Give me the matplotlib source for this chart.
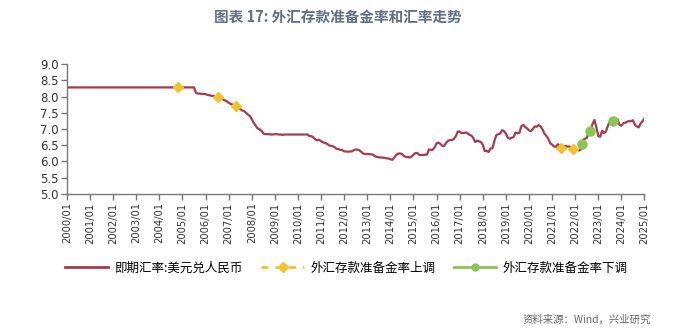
import numpy as np
import matplotlib
matplotlib.use("Agg")
import matplotlib.pyplot as plt
from matplotlib.lines import Line2D

plt.rcParams['font.family'] = ['Noto Sans CJK SC', 'DejaVu Sans']

# Spot USD/CNY, month-start values, 2000/01 .. 2025/01
usdcny = {
    2000: [8.28] * 12,
    2001: [8.28] * 12,
    2002: [8.28] * 12,
    2003: [8.28] * 12,
    2004: [8.28] * 12,
    2005: [8.28, 8.28, 8.28, 8.28, 8.28, 8.28, 8.28, 8.11, 8.09, 8.09, 8.08, 8.08],
    2006: [8.07, 8.05, 8.04, 8.02, 8.02, 8.01, 8.00, 7.97, 7.94, 7.91, 7.88, 7.85],
    2007: [7.81, 7.77, 7.75, 7.73, 7.70, 7.64, 7.61, 7.57, 7.55, 7.50, 7.44, 7.40],
    2008: [7.30, 7.19, 7.10, 7.02, 6.99, 6.95, 6.86, 6.84, 6.84, 6.84, 6.83, 6.83],
    2009: [6.84, 6.84, 6.83, 6.83, 6.82, 6.83, 6.83, 6.83, 6.83, 6.83, 6.83, 6.83],
    2010: [6.83, 6.83, 6.83, 6.83, 6.83, 6.83, 6.78, 6.78, 6.74, 6.68, 6.65, 6.67],
    2011: [6.62, 6.59, 6.57, 6.55, 6.50, 6.48, 6.47, 6.44, 6.39, 6.38, 6.36, 6.35],
    2012: [6.31, 6.31, 6.30, 6.31, 6.31, 6.35, 6.37, 6.36, 6.34, 6.29, 6.24, 6.23],
    2013: [6.23, 6.23, 6.22, 6.21, 6.16, 6.14, 6.13, 6.12, 6.12, 6.11, 6.10, 6.09],
    2014: [6.07, 6.05, 6.12, 6.20, 6.24, 6.25, 6.23, 6.17, 6.14, 6.14, 6.12, 6.15],
    2015: [6.21, 6.26, 6.26, 6.20, 6.20, 6.20, 6.21, 6.21, 6.37, 6.36, 6.36, 6.44],
    2016: [6.56, 6.58, 6.54, 6.48, 6.48, 6.58, 6.64, 6.66, 6.66, 6.70, 6.78, 6.92],
    2017: [6.92, 6.87, 6.88, 6.89, 6.88, 6.82, 6.80, 6.73, 6.60, 6.64, 6.62, 6.60],
    2018: [6.51, 6.32, 6.33, 6.29, 6.40, 6.41, 6.62, 6.81, 6.84, 6.86, 6.96, 6.94],
    2019: [6.86, 6.73, 6.70, 6.73, 6.75, 6.89, 6.87, 6.88, 7.08, 7.13, 7.06, 7.02],
    2020: [6.96, 6.93, 7.00, 7.08, 7.07, 7.12, 7.08, 6.99, 6.86, 6.79, 6.70, 6.56],
    2021: [6.52, 6.46, 6.45, 6.53, 6.48, 6.38, 6.46, 6.48, 6.46, 6.46, 6.42, 6.39],
    2022: [6.37, 6.36, 6.34, 6.37, 6.66, 6.70, 6.72, 6.90, 6.97, 7.15, 7.28, 7.05],
    2023: [6.78, 6.76, 6.95, 6.87, 6.93, 7.10, 7.23, 7.15, 7.28, 7.30, 7.30, 7.13],
    2024: [7.10, 7.18, 7.19, 7.23, 7.24, 7.24, 7.27, 7.13, 7.08, 7.05, 7.17, 7.24],
    2025: [7.33],
}

# Dates (decimal years) of FX deposit reserve ratio changes
hike_dates = [2004.80, 2006.55, 2007.33, 2021.40, 2021.90]
cut_dates = [2022.30, 2022.62, 2023.64]

years = list(range(2000, 2026))
tick_labels = [f"{y}/01" for y in years]

values = np.concatenate([usdcny[y] for y in sorted(usdcny)])
t = 2000 + np.arange(len(values)) / 12.0

line_color = '#A63A50'
hike_color = '#F2C12E'
cut_color = '#8DC454'

fig = plt.figure(figsize=(7.0, 3.31), dpi=100)
ax = fig.add_axes([0.0957, 0.414, 0.825, 0.3926])

ax.plot(t, values, color=line_color, lw=1.6, zorder=2)
ax.plot(hike_dates, np.interp(hike_dates, t, values), ls='none', marker='D',
        ms=5, color=hike_color, zorder=3)
ax.plot(cut_dates, np.interp(cut_dates, t, values), ls='none', marker='o',
        ms=6.5, color=cut_color, zorder=3)

ax.set_xlim(2000, 2025)
ax.set_ylim(5.0, 9.0)
ax.set_yticks(np.arange(5.0, 9.01, 0.5))
ax.set_yticklabels([f"{v:.1f}" for v in np.arange(5.0, 9.01, 0.5)], fontsize=8.5,
                   family='DejaVu Sans', color='#333333')
ax.set_xticks(years)
ax.set_xticklabels(tick_labels, rotation=90, fontsize=7.2, family='DejaVu Sans',
                   color='#333333')

for side in ('top', 'right'):
    ax.spines[side].set_visible(False)
for side in ('left', 'bottom'):
    ax.spines[side].set_color('#777777')
    ax.spines[side].set_linewidth(1.0)
ax.tick_params(axis='both', direction='out', length=4, width=1.0, color='#777777', pad=2)

fig.text(0.482, 0.947, "图表 17: 外汇存款准备金率和汇率走势", ha='center', va='center',
         fontsize=10.5, fontweight='bold', color='#5F6F84')

handles = [
    Line2D([], [], color=line_color, lw=2),
    Line2D([], [], color=hike_color, lw=2, ls=(0, (2.5, 2.5)), marker='D', ms=5),
    Line2D([], [], color=cut_color, lw=2, marker='o', ms=5),
]
labels = ["即期汇率:美元兑人民币", "外汇存款准备金率上调", "外汇存款准备金率下调"]
fig.legend(handles, labels, loc='center', bbox_to_anchor=(0.495, 0.19), ncol=3,
           frameon=False, fontsize=9, handlelength=3.4, columnspacing=1.5,
           handletextpad=0.5)

fig.text(0.93, 0.035, "资料来源：Wind，兴业研究", ha='right', va='center',
         fontsize=7.5, color='#666666')

fig.savefig("out.png", dpi=100)
